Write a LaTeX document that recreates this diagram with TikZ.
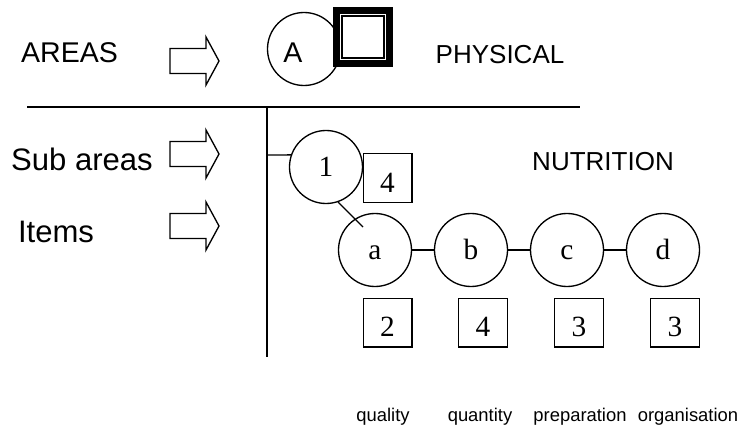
\documentclass[tikz,border=0pt]{standalone}
\usepackage{fontspec}
\setmainfont{Liberation Serif}
\setsansfont{Liberation Sans}

\tikzset{every picture/.style={line width=0.75pt}}
\tikzset{
  itemcirc/.style={draw, circle, line width=1pt, minimum size=54.75pt, inner sep=0pt, text height=14.4pt, text depth=0pt, font=\fontsize{22}{24}\selectfont},
  scorebox/.style={draw, rectangle, line width=1pt, minimum size=36.5pt, inner sep=0pt, text height=21.7pt, text depth=0pt, font=\fontsize{22}{24}\selectfont},
  leftlabel/.style={anchor=base, font=\sffamily\fontsize{23.3}{26}\selectfont},
  arealabel/.style={anchor=base, font=\sffamily\fontsize{21.4}{24}\selectfont},
  namelabel/.style={anchor=base, font=\sffamily\fontsize{19.5}{22}\selectfont},
  itemlabel/.style={anchor=base, font=\sffamily\fontsize{13.8}{16}\selectfont},
  blockarrow/.pic={
    \draw[line width=1pt] (0,-12.5) -- (36,-12.5) -- (36,-24) -- (49,0) -- (36,24) -- (36,12.5) -- (0,12.5) -- cycle ;
  }
}

\begin{document}
\begin{tikzpicture}[x=0.75pt,y=0.75pt,yscale=-1,xscale=1]
\useasboundingbox (0,0) rectangle (742,428);

%Shape: Block arrows
\pic at (170,61) {blockarrow};
\pic at (170,154) {blockarrow};
\pic at (170,226) {blockarrow};

%Shape: Circle and double square for the area
\node [itemcirc] (areaA) at (304,49) {};
\node [draw, rectangle, line width=5.25pt, fill=white, minimum size=39.75pt, inner sep=0pt] (sqOuter) at (363,37) {};
\node [draw, rectangle, line width=1pt, minimum size=31.5pt, inner sep=0pt] (sqInner) at (sqOuter.center) {};

%Straight Lines: dividers
\coordinate (hl) at (27,107);
\coordinate (hr) at (580,107);
\coordinate (vt) at (267,107);
\coordinate (vb) at (267,357);
\draw [line width=1pt] (hl) -- (hr) ;
\draw [line width=1pt] (vt) -- (vb) ;

%Shape: Sub area circle and its score
\node [itemcirc] (one) at (326,167) {1};
\node [scorebox] (oneScore) at (387.5,178) {4};
\coordinate (branch) at (267,155);
\draw [line width=1pt] (branch) -- (one.161) ;

%Shape: Item circles
\node [itemcirc] (itemA) at (375,250) {a};
\node [itemcirc] (itemB) at (471,250) {b};
\node [itemcirc] (itemC) at (567,250) {c};
\node [itemcirc] (itemD) at (663,250) {d};
\coordinate (aIn) at (363,227);
\draw [line width=1pt] (one.-71) -- (aIn) ;
\draw [line width=1pt] (itemA) -- (itemB) ;
\draw [line width=1pt] (itemB) -- (itemC) ;
\draw [line width=1pt] (itemC) -- (itemD) ;

%Shape: Item scores
\node [scorebox] (scoreA) at (387.5,322.5) {2};
\node [scorebox] (scoreB) at (483,322.5) {4};
\node [scorebox] (scoreC) at (579,322.5) {3};
\node [scorebox] (scoreD) at (675,322.5) {3};

% Text Node
\node [arealabel] (areasTxt) at (69.5,63) {AREAS};
% Text Node
\node [leftlabel] (subTxt) at (82,170) {Sub areas};
% Text Node
\node [leftlabel] (itemsTxt) at (56,242) {Items};
% Text Node
\node [arealabel] (aTxt) at (293,63) {A};
% Text Node
\node [namelabel] (physTxt) at (500,64) {PHYSICAL};
% Text Node
\node [namelabel] (nutrTxt) at (603,170) {NUTRITION};
% Text Node
\node [itemlabel] (qualTxt) at (383,421) {quality};
\node [itemlabel] (quanTxt) at (480,421) {quantity};
\node [itemlabel] (prepTxt) at (580,421) {preparation};
\node [itemlabel] (orgTxt) at (688,421) {organisation};

\end{tikzpicture}
\end{document}
